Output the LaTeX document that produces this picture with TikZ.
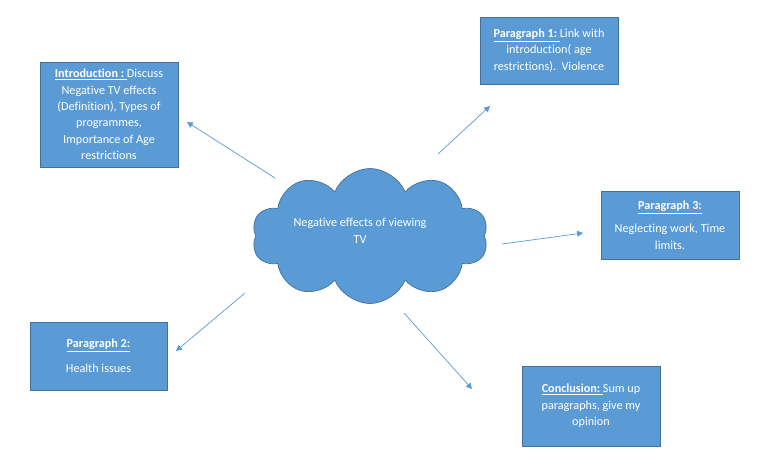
\documentclass[tikz,border=0pt]{standalone}
\usepackage{fontspec}
\setmainfont[Ligatures={NoCommon}]{Carlito}
\definecolor{BoxBlue}{HTML}{5B9BD5}
\definecolor{EdgeBlue}{HTML}{41719C}
\usetikzlibrary{shapes.symbols,arrows.meta}

\begin{document}
\begin{tikzpicture}[x=0.03cm,y=-0.03cm,
    topicbox/.style={draw=EdgeBlue, fill=BoxBlue, line width=0.6pt, text=white,
      align=center, font=\fontsize{10.4}{14}\selectfont, inner sep=0pt,
      minimum width=4.14cm},
    linkarrow/.style={draw=BoxBlue, line width=0.6pt,
      -{Triangle[length=5pt,width=5pt]}}]
  \fill[white] (0,0) rectangle (768,473);
  \useasboundingbox (0,0) rectangle (768,473);

  % central cloud
  \node[cloud, cloud puffs=10, cloud puff arc=135, aspect=1.8,
    draw=EdgeBlue, fill=BoxBlue, line width=0.6pt,
    minimum width=7.08cm, minimum height=4.05cm] (tv) at (370,236) {};
  \node[text=white, align=center, font=\fontsize{10.4}{14}\selectfont]
    (tvlabel) at (360,231) {Negative effects of viewing\\TV};

  % topic boxes
  \node[topicbox, minimum height=3.15cm] (intro) at (109,114.5)
    {\textbf{\underline{Introduction :\ }}Discuss\\Negative TV effects\\(Definition), Types of\\programmes,\\Importance of Age\\restrictions};
  \node[topicbox, minimum height=2.01cm] (para1) at (549,50.5)
    {\textbf{\underline{Paragraph 1:\ }}Link with\\introduction( age\\restrictions).\ \ Violence};
  \node[topicbox, minimum height=2.04cm] (para3) at (670,225)
    {\textbf{\underline{Paragraph 3:}}\\[6pt]Neglecting work, Time\\limits.};
  \node[topicbox, minimum width=4.11cm, minimum height=2.04cm] (para2) at (98.5,356)
    {\textbf{\underline{Paragraph 2:}}\\[7pt]Health issues};
  \node[topicbox, minimum height=2.4cm] (concl) at (591,406)
    {\textbf{\underline{Conclusion:\ }}Sum up\\paragraphs, give my\\opinion};

  % arrow ends
  \coordinate (introS) at (275,178);  \coordinate (introE) at (187,122);
  \coordinate (para1S) at (438,154);  \coordinate (para1E) at (490,106);
  \coordinate (para3S) at (502,244);  \coordinate (para3E) at (583,233);
  \coordinate (para2S) at (245,293);  \coordinate (para2E) at (176,351);
  \coordinate (conclS) at (404,313);  \coordinate (conclE) at (472,389);

  \draw[linkarrow] (introS) -- (introE);
  \draw[linkarrow] (para1S) -- (para1E);
  \draw[linkarrow] (para3S) -- (para3E);
  \draw[linkarrow] (para2S) -- (para2E);
  \draw[linkarrow] (conclS) -- (conclE);
\end{tikzpicture}
\end{document}
